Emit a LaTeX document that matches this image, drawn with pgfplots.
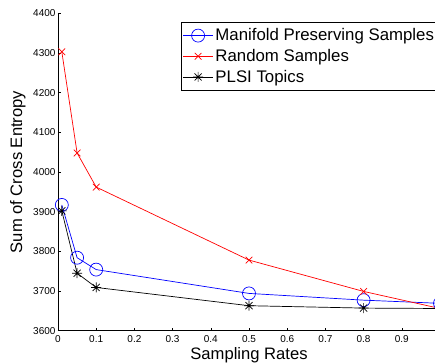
\documentclass[border=0pt]{standalone}
\usepackage{pgfplots}
\pgfplotsset{compat=1.18}
\usepackage{fontspec}
\setmainfont{Liberation Sans}
\pgfdeclareplotmark{mstar}{%
  \pgfpathmoveto{\pgfqpoint{-\pgfplotmarksize}{0pt}}\pgfpathlineto{\pgfqpoint{\pgfplotmarksize}{0pt}}%
  \pgfpathmoveto{\pgfqpoint{0pt}{-\pgfplotmarksize}}\pgfpathlineto{\pgfqpoint{0pt}{\pgfplotmarksize}}%
  \pgfpathmoveto{\pgfqpoint{-0.707\pgfplotmarksize}{-0.707\pgfplotmarksize}}\pgfpathlineto{\pgfqpoint{0.707\pgfplotmarksize}{0.707\pgfplotmarksize}}%
  \pgfpathmoveto{\pgfqpoint{-0.707\pgfplotmarksize}{0.707\pgfplotmarksize}}\pgfpathlineto{\pgfqpoint{0.707\pgfplotmarksize}{-0.707\pgfplotmarksize}}%
  \pgfusepathqstroke}
\begin{document}
\begin{tikzpicture}
\begin{axis}[name=ax,
  scale only axis, width=382pt, height=317.4pt,
  xmin=0, xmax=1, ymin=3600, ymax=4400,
  axis x line*=bottom, axis y line*=left, axis line style={-, line width=0.6pt},
  tick align=inside, major tick length=3pt, tick style={line width=0.5pt, black},
  xtick={0,0.1,0.2,0.3,0.4,0.5,0.6,0.7,0.8,0.9},
  xticklabels={0,0.1,0.2,0.3,0.4,0.5,0.6,0.7,0.8,0.9},
  ytick={3600,3700,3800,3900,4000,4100,4200,4300,4400},
  yticklabels={3600,3700,3800,3900,4000,4100,4200,4300,4400},
  ticklabel style={font=\fontsize{10}{12}\selectfont},
  yticklabel style={xshift=1pt},
  xticklabel style={yshift=-1pt},
  xlabel={Sampling Rates}, ylabel={Sum of Cross Entropy},
  label style={font=\fontsize{16.6}{20}\selectfont},
  xlabel style={at={(axis description cs:0.5,-0.0914)}, anchor=base},
  ylabel style={at={(axis description cs:-0.0942,0.5)}, anchor=base},
  legend style={at={(axis description cs:0.322,0.9726)}, anchor=north west,
    font=\fontsize{16.8}{20}\selectfont, draw=black, line width=0.5pt,
    row sep=3pt, inner xsep=1.5pt, inner ysep=4.5pt, cells={anchor=west}},
  legend image code/.code={\draw[mark repeat=2,mark phase=2] plot coordinates {(0pt,0pt) (15pt,0pt) (30pt,0pt)};},
  every axis plot/.append style={line width=0.7pt},
  clip=true,
]
\addplot[blue, mark=o, mark size=6.5pt, mark options={line width=0.7pt}] coordinates {
 (0.01,3917) (0.05,3784) (0.1,3754) (0.5,3694) (0.8,3677) (1.0,3669)};
\addlegendentry{Manifold Preserving Samples}
\addplot[red, mark=x, mark size=4.7pt, mark options={line width=0.7pt}] coordinates {
 (0.01,4303) (0.05,4048) (0.1,3962) (0.5,3778) (0.8,3699) (1.0,3656)};
\addlegendentry{Random Samples}
\addplot[black, mark=mstar, mark size=5pt, mark options={line width=0.7pt}] coordinates {
 (0.01,3902) (0.05,3745) (0.1,3709) (0.5,3663) (0.8,3657) (1.0,3656)};
\addlegendentry{PLSI Topics}
\end{axis}
\pgfresetboundingbox
\path[use as bounding box] ([xshift=-58pt,yshift=-31.3pt]ax.south west) rectangle ([xshift=377pt,yshift=330.7pt]ax.south west);
\end{tikzpicture}
\end{document}
